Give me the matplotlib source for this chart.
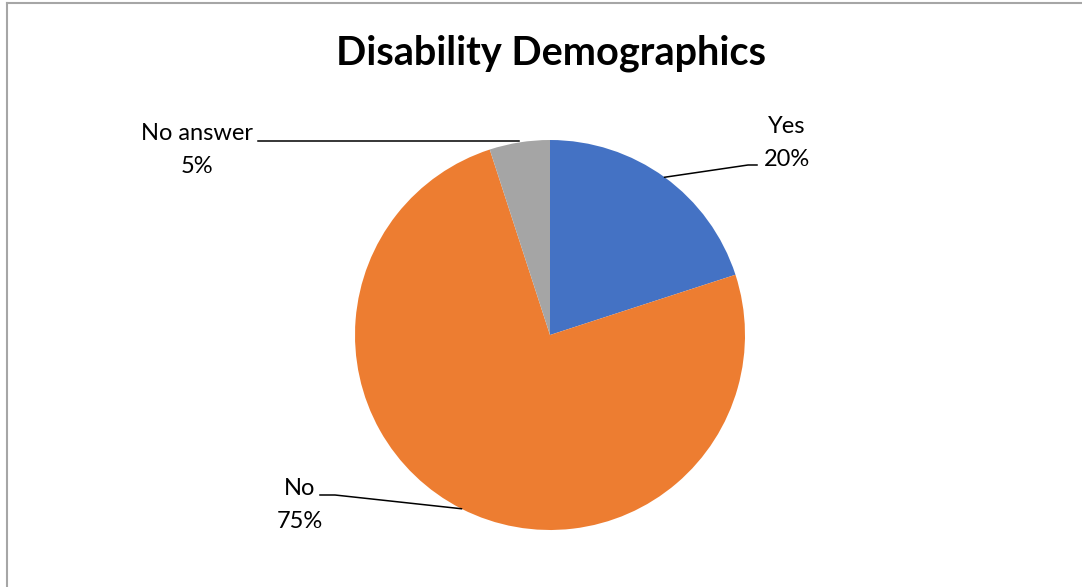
import numpy as np
import matplotlib.pyplot as plt

labels = ['Yes', 'No', 'No answer']
shares = [20, 75, 5]
colors = ['#4472C4', '#ED7D31', '#A5A5A5']

plt.rcParams['font.family'] = ['Lato', 'DejaVu Sans']

W, H = 1082, 587
cx, cy, R = 550, 335, 195

fig = plt.figure(figsize=(W / 100, H / 100), dpi=100)

# pie axes sized in pixels
ax = fig.add_axes([(cx - R) / W, (H - cy - R) / H, 2 * R / W, 2 * R / H])
wedges, _ = ax.pie(shares, colors=colors, startangle=90, counterclock=False,
                   radius=1, wedgeprops=dict(linewidth=0))
ax.set_xlim(-1, 1)
ax.set_ylim(-1, 1)
ax.set_aspect('equal')
ax.axis('off')


def to_data(px, py):
    return (px - cx) / R, (cy - py) / R


# label text centre (px), elbow points (px)
label_pos = {
    'Yes': (787, 143),
    'No': (300, 505),
    'No answer': (197, 150),
}
elbows = {
    'Yes': [(757, 165), (748, 165)],
    'No': [(320, 495), (335, 495)],
    'No answer': [(258, 141)],
}

for w, lab, val in zip(wedges, labels, shares):
    mid = np.deg2rad((w.theta1 + w.theta2) / 2)
    ex, ey = np.cos(mid), np.sin(mid)
    pts = [to_data(*p) for p in elbows[lab]]
    if lab == 'No answer':
        pts.append((ex, pts[-1][1]))
    else:
        pts.append((ex, ey))
    xs, ys = zip(*pts)
    ax.plot(xs, ys, color='black', lw=1.1, clip_on=False)
    tx, ty = to_data(*label_pos[lab])
    ax.text(tx, ty, f'{lab}\n{val}%', ha='center', va='center', fontsize=17,
            linespacing=1.7, color='black', clip_on=False)

fig.text(551 / W, 1 - 53 / H, 'Disability Demographics', ha='center', va='center',
         fontsize=28.5, fontweight='bold')

# frame (left and top edges only, the rest is cropped)
fig.add_artist(plt.Line2D([6.5 / W, 6.5 / W], [0, 1 - 2.5 / H], color='#A6A6A6', lw=1.5,
                          transform=fig.transFigure))
fig.add_artist(plt.Line2D([6.5 / W, 1], [1 - 2.5 / H, 1 - 2.5 / H], color='#A6A6A6', lw=1.5,
                          transform=fig.transFigure))

fig.savefig('out.png', dpi=100)
